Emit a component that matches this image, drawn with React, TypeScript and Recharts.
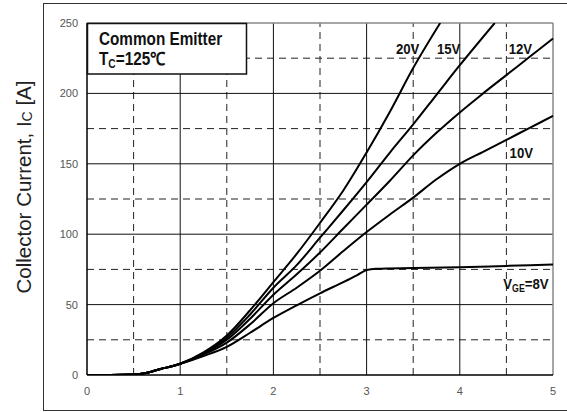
import React from 'react';
import { LineChart, Line, XAxis, YAxis, ReferenceLine, ReferenceDot } from 'recharts';

// collector-emitter voltage [V] and collector current [A] per gate voltage
const vce20 = [0, 0.25, 0.5, 0.6, 0.7, 0.8, 0.9, 1, 1.25, 1.5, 1.75, 2, 2.25, 2.5, 2.75, 3, 3.25, 3.5, 3.79];
const ic20 = [0, 0, 0.3, 1, 2.5, 4.5, 6, 8, 16, 28, 46, 66, 86, 108, 131, 158, 187, 218, 250];

const vce15 = [0, 0.25, 0.5, 0.6, 0.7, 0.8, 0.9, 1, 1.25, 1.5, 1.75, 2, 2.25, 2.5, 2.75, 3, 3.25, 3.5, 3.75, 4, 4.375];
const ic15 = [0, 0, 0.3, 1, 2.5, 4.5, 6, 8, 15.5, 26.5, 43, 62, 78, 97.5, 117, 137, 158, 178, 199, 220, 250];

const vce12 = [0, 0.25, 0.5, 0.6, 0.7, 0.8, 0.9, 1, 1.25, 1.5, 1.75, 2, 2.25, 2.5, 2.75, 3, 3.25, 3.5, 3.75, 4, 4.25, 4.5, 4.75, 5];
const ic12 = [0, 0, 0.3, 1, 2.5, 4.5, 6, 8, 15, 25, 40, 57, 71.5, 87, 104, 121, 138, 156, 172, 186.5, 200, 213, 226, 239];

const vce10 = vce12;
const ic10 = [0, 0, 0.3, 1, 2.5, 4.5, 6, 8, 14.5, 23, 36, 51, 62, 74, 88, 101.5, 114, 126, 139, 150, 158.5, 167, 175.5, 184];

const vce8 = [0, 0.25, 0.5, 0.6, 0.7, 0.8, 0.9, 1, 1.25, 1.5, 1.75, 2, 2.25, 2.5, 2.75, 2.9, 3, 3.1, 3.5, 4, 4.5, 5];
const ic8 = [0, 0, 0.3, 1, 2.5, 4.5, 6, 8, 13.5, 20, 30, 40.5, 49.5, 58, 66, 71, 74.5, 75.5, 76, 76.5, 77.5, 78.5];

const xTicks = [0, 1, 2, 3, 4, 5];
const yTicks = [0, 50, 100, 150, 200, 250];
const majorX = [1, 2, 3, 4];
const minorX = [0.5, 1.5, 2.5, 3.5, 4.5];
const majorY = [50, 100, 150, 200];
const minorY = [25, 75, 125, 175, 225];

// curve tags: [vce, ic, main, sub, tail]
const tags: [number, number, string, string, string][] = [
  [3.44, 232, '20V', '', ''],
  [3.88, 232, '15V', '', ''],
  [4.65, 232, '12V', '', ''],
  [4.66, 158, '10V', '', ''],
  [4.71, 65, 'V', 'GE', '=8V'],
];

const zip = (xs: number[], ys: number[]) => xs.map((v, k) => ({ v, i: ys[k] }));

const series = [
  zip(vce20, ic20),
  zip(vce15, ic15),
  zip(vce12, ic12),
  zip(vce10, ic10),
  zip(vce8, ic8),
];

const plain = "'Liberation Sans', Arial, sans-serif";
const tickStyle = { fill: '#555', fontSize: 11, fontFamily: plain };

const YTitle = (props: any) => {
  const vb = props.viewBox || { x: 0, y: 0, width: 0, height: 0 };
  const cx = vb.x + 23;
  const cy = vb.y + vb.height / 2 - 12;
  return (
    <text
      x={cx}
      y={cy}
      transform={`rotate(-90 ${cx} ${cy})`}
      textAnchor="middle"
      dominantBaseline="central"
      fontSize={20.5}
      fontFamily={plain}
      fill="#222"
    >
      Collector Current, I
      <tspan fontSize={14} dy={4}>C</tspan>
      <tspan dy={-4}> [A]</tspan>
    </text>
  );
};

const makeTag = (main: string, sub: string, tail: string) => (props: any) => {
  const vb = props.viewBox || { x: 0, y: 0 };
  return (
    <g transform={`translate(${vb.x} ${vb.y}) scale(0.88 1)`}>
      <text
        x={0}
        y={0}
        textAnchor="middle"
        dominantBaseline="central"
        fontSize={15}
        fontWeight="bold"
        fontFamily={plain}
        fill="#111"
      >
        {main}
        {sub && <tspan fontSize={10} dy={4}>{sub}</tspan>}
        {tail && <tspan dy={-4}>{tail}</tspan>}
      </text>
    </g>
  );
};

export default function App() {
  return (
    <div style={{ position: 'absolute', left: 0, top: 0, width: 567, height: 412, background: '#fff', overflow: 'hidden' }}>
      <LineChart width={567} height={412} margin={{ top: 23, right: 14, bottom: 7, left: 0 }}>
        <XAxis
          type="number"
          dataKey="v"
          domain={[0, 5]}
          ticks={xTicks}
          height={30}
          tickLine={false}
          tickMargin={6}
          axisLine={{ stroke: '#000', strokeWidth: 1.5 }}
          tick={tickStyle}
        />
        <YAxis
          type="number"
          domain={[0, 250]}
          ticks={yTicks}
          width={87}
          tickLine={false}
          tickMargin={3}
          allowDataOverflow
          axisLine={{ stroke: '#000', strokeWidth: 1.5 }}
          tick={tickStyle}
          label={<YTitle />}
        />
        {minorX.map((v) => (
          <ReferenceLine key={'mx' + v} x={v} stroke="#222" strokeWidth={1} strokeDasharray="7 5" />
        ))}
        {minorY.map((v) => (
          <ReferenceLine key={'my' + v} y={v} stroke="#222" strokeWidth={1} strokeDasharray="7 5" />
        ))}
        {majorX.map((v) => (
          <ReferenceLine key={'Mx' + v} x={v} stroke="#111" strokeWidth={1} />
        ))}
        {majorY.map((v) => (
          <ReferenceLine key={'My' + v} y={v} stroke="#111" strokeWidth={1} />
        ))}
        <ReferenceLine y={250} stroke="#888" strokeWidth={1.5} />
        <ReferenceLine x={5} stroke="#888" strokeWidth={1.5} />
        {series.map((d, k) => (
          <Line
            key={k}
            data={d}
            dataKey="i"
            type="monotone"
            stroke="#000"
            strokeWidth={2}
            dot={false}
            activeDot={false}
            isAnimationActive={false}
          />
        ))}
        {tags.map(([x, y, main, sub, tail]) => (
          <ReferenceDot
            key={main + tail}
            x={x}
            y={y}
            r={0}
            fill="none"
            stroke="none"
            label={makeTag(main, sub, tail)}
          />
        ))}
      </LineChart>
      <svg width={567} height={412} style={{ position: 'absolute', left: 0, top: 0, pointerEvents: 'none' }}>
        <rect x={87.5} y={23.5} width={159} height={50.5} fill="#fff" stroke="#111" strokeWidth={1.5} />
        <g transform="translate(99 45) scale(0.85 1)">
          <text x={0} y={0} fontSize={18} fontWeight="bold" fontFamily={plain} fill="#111">
            Common Emitter
          </text>
        </g>
        <g transform="translate(99 65) scale(0.85 1)">
          <text x={0} y={0} fontSize={18} fontWeight="bold" fontFamily={plain} fill="#111">
            T<tspan fontSize={12} dy={3}>C</tspan>
            <tspan dy={-3}>=125℃</tspan>
          </text>
        </g>
      </svg>
      <div
        style={{
          position: 'absolute',
          left: 43,
          top: 3,
          width: 540,
          height: 407.5,
          boxSizing: 'border-box',
          borderLeft: '1.5px solid #333',
          borderTop: '1.5px solid #333',
          borderBottom: '1.5px solid #333',
        }}
      />
    </div>
  );
}
